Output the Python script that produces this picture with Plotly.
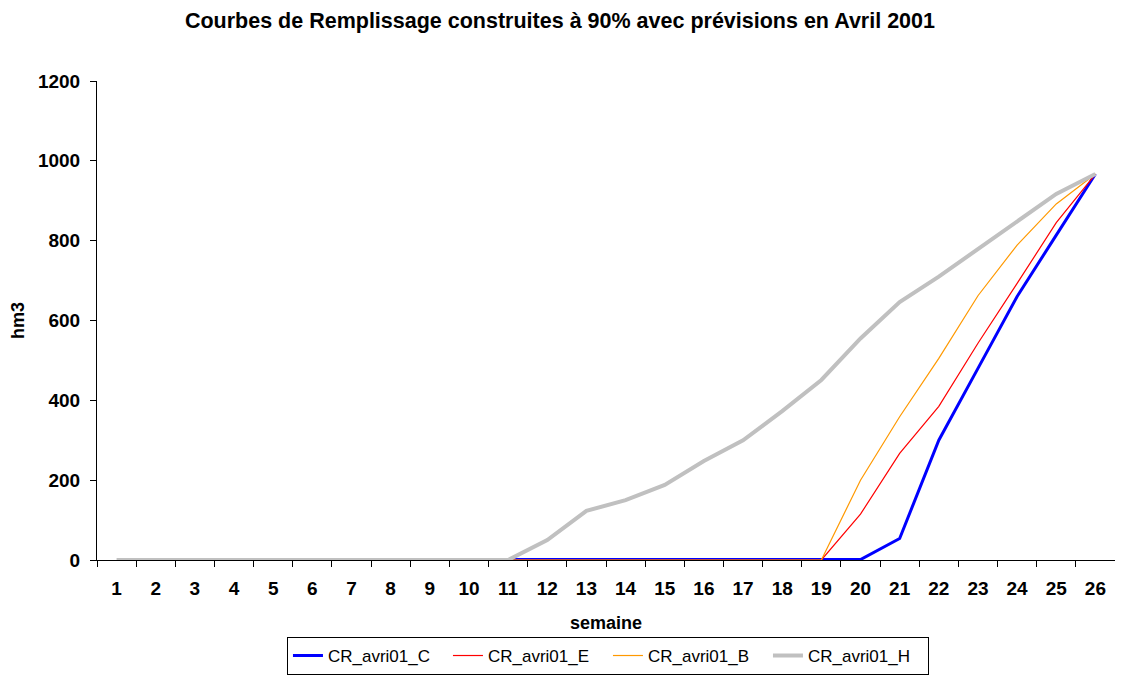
import plotly.graph_objects as go

weeks = [str(i) for i in range(1, 27)]
N = None
cr_c = [N]*10 + [1, 1, 1, 1, 1, 1, 1, 1, 1, 1, 54, 300, 480, 660, 814, 967]
cr_e = [N]*10 + [0, 0, 0, 0, 0, 0, 0, 0, 0, 115, 267, 385, 543, 693, 845, 967]
cr_b = [N]*10 + [0, 0, 0, 0, 0, 0, 0, 0, 0, 200, 359, 505, 662, 789, 892, 967]
cr_h = [0, 0, 0, 0, 0, 0, 0, 0, 0, 0, 0, 50, 123, 150, 188, 248, 300, 373, 451, 555, 646, 710, 779, 848, 917, 967]

series = [
    ("CR_avri01_C", cr_c, "#0000FF", 3),
    ("CR_avri01_E", cr_e, "#FF0000", 1.2),
    ("CR_avri01_B", cr_b, "#FF9900", 1.2),
    ("CR_avri01_H", cr_h, "#C0C0C0", 4),
]

fig = go.Figure()
for name, vals, color, w in series:
    fig.add_trace(go.Scatter(x=weeks, y=vals, name=name, mode="lines",
                             line=dict(color=color, width=w), connectgaps=False))

# page body has an 8px margin: figure is sized/positioned to compensate
fig.update_layout(
    width=1107, height=668,
    paper_bgcolor="white", plot_bgcolor="white",
    margin=dict(l=89, r=0, t=73, b=116),
    font=dict(family="Liberation Sans, Arial, sans-serif", size=16, color="black", weight="bold"),
    title=dict(text="Courbes de Remplissage construites à 90% avec prévisions en Avril 2001",
               x=0.4986, xref="container", xanchor="center", y=0.982, yanchor="middle",
               font=dict(size=21.5, weight="bold")),
    showlegend=True,
    legend=dict(orientation="h", x=0.1866, xanchor="left", y=-0.24, yanchor="bottom",
                bordercolor="black", borderwidth=1, font=dict(size=17, weight="normal"),
                entrywidth=115, entrywidthmode="pixels", tracegroupgap=0),
    xaxis=dict(type="category", range=[-0.5, 25.5], showgrid=False, showline=True,
               linecolor="black", linewidth=1, automargin=False,
               ticks="outside", ticklen=6, tickcolor="black", tickson="boundaries",
               ticklabelstandoff=11,
               title=dict(text="semaine", font=dict(size=18, weight="bold"), standoff=18),
               tickfont=dict(size=19, weight="bold"), zeroline=False),
    yaxis=dict(range=[0, 1200], dtick=200, showgrid=False, showline=True, linecolor="black",
               linewidth=1, ticks="outside", ticklen=6, tickcolor="black", zeroline=False,
               ticklabelstandoff=6, automargin=False,
               title=dict(text="hm3", font=dict(size=18, weight="bold"), standoff=10),
               tickfont=dict(size=19, weight="bold")),
)

fig.write_html("out.html")
